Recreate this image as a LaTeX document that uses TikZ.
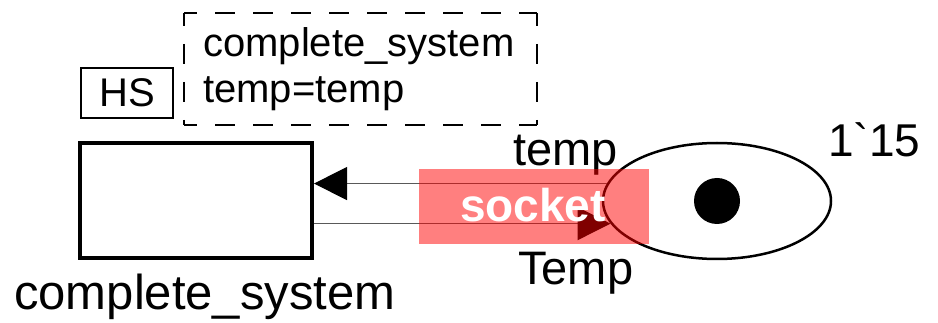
\documentclass[tikz,border=0pt]{standalone}
\usepackage{fontspec}
\setmainfont{Liberation Sans}
\newfontfamily\markfont{Liberation Sans}[Ligatures=TeXOff]
\usetikzlibrary{shapes.geometric,arrows.meta}
\begin{document}
\begin{tikzpicture}[x=1pt,y=-1pt,
  bigtxt/.style={inner sep=0pt, anchor=base west, font=\fontsize{47}{47}\selectfont},
  midtxt/.style={inner sep=0pt, anchor=base west, font=\fontsize{40}{40}\selectfont},
  arc/.style={line width=1.2pt, draw=black!65},
  tip/.style={-{Triangle[length=33pt,width=33pt,color=black]}},
  dashedge/.style={line width=2.7pt, dash pattern=on 20pt off 18pt, dash phase=7pt}]
\useasboundingbox (0,0) rectangle (938,323);
% transition
\node[draw, line width=4pt, minimum width=232pt, minimum height=115pt, inner sep=0pt] (trans) at (196,200.5) {};
\node[inner sep=0pt, anchor=base west, font=\fontsize{49}{49}\selectfont] (tname) at (14,310) {complete\_system};
% HS tag
\node[draw, line width=2pt, minimum width=92pt, minimum height=50pt, inner sep=0pt] (hs) at (127,93) {};
\node[inner sep=0pt, anchor=base, font=\fontsize{40}{40}\selectfont] (hstxt) at (127,107) {HS};
% substitution inscription
\coordinate (d1) at (184,13);
\coordinate (d2) at (537,13);
\coordinate (d3) at (537,125);
\coordinate (d4) at (184,125);
\draw[dashedge] (d1) -- (d2);
\draw[dashedge] (d4) -- (d3);
\draw[dashedge] (d1) -- (d4);
\draw[dashedge] (d2) -- (d3);
\node[midtxt] (sub1) at (203,57) {complete\_system};
\node[midtxt] (sub2) at (203,103) {temp=temp};
% place
\node[draw, ellipse, line width=2.5pt, minimum width=228pt, minimum height=116pt, inner sep=0pt] (place) at (717,201) {};
\node[circle, fill=black, minimum size=46pt, inner sep=0pt] (token) at (place.center) {};
\node[bigtxt, font=\markfont\fontsize{46}{46}\selectfont] (mark) at (828,157) {1`15};
% arcs
\draw[arc, tip] (place.171) -- (place.171 -| trans.east);
\draw[arc, tip] (place.192 -| trans.east) -- (place.192);
\node[bigtxt] (lt1) at (513,166) {temp};
\node[bigtxt] (lt2) at (518,285) {Temp};
% socket overlay
\fill[red, opacity=0.5] (419,169) rectangle (649,244);
\node[inner sep=0pt, anchor=base, text=white, font=\fontsize{46}{46}\selectfont\bfseries] (sock) at (533,222) {socket};
\end{tikzpicture}
\end{document}
